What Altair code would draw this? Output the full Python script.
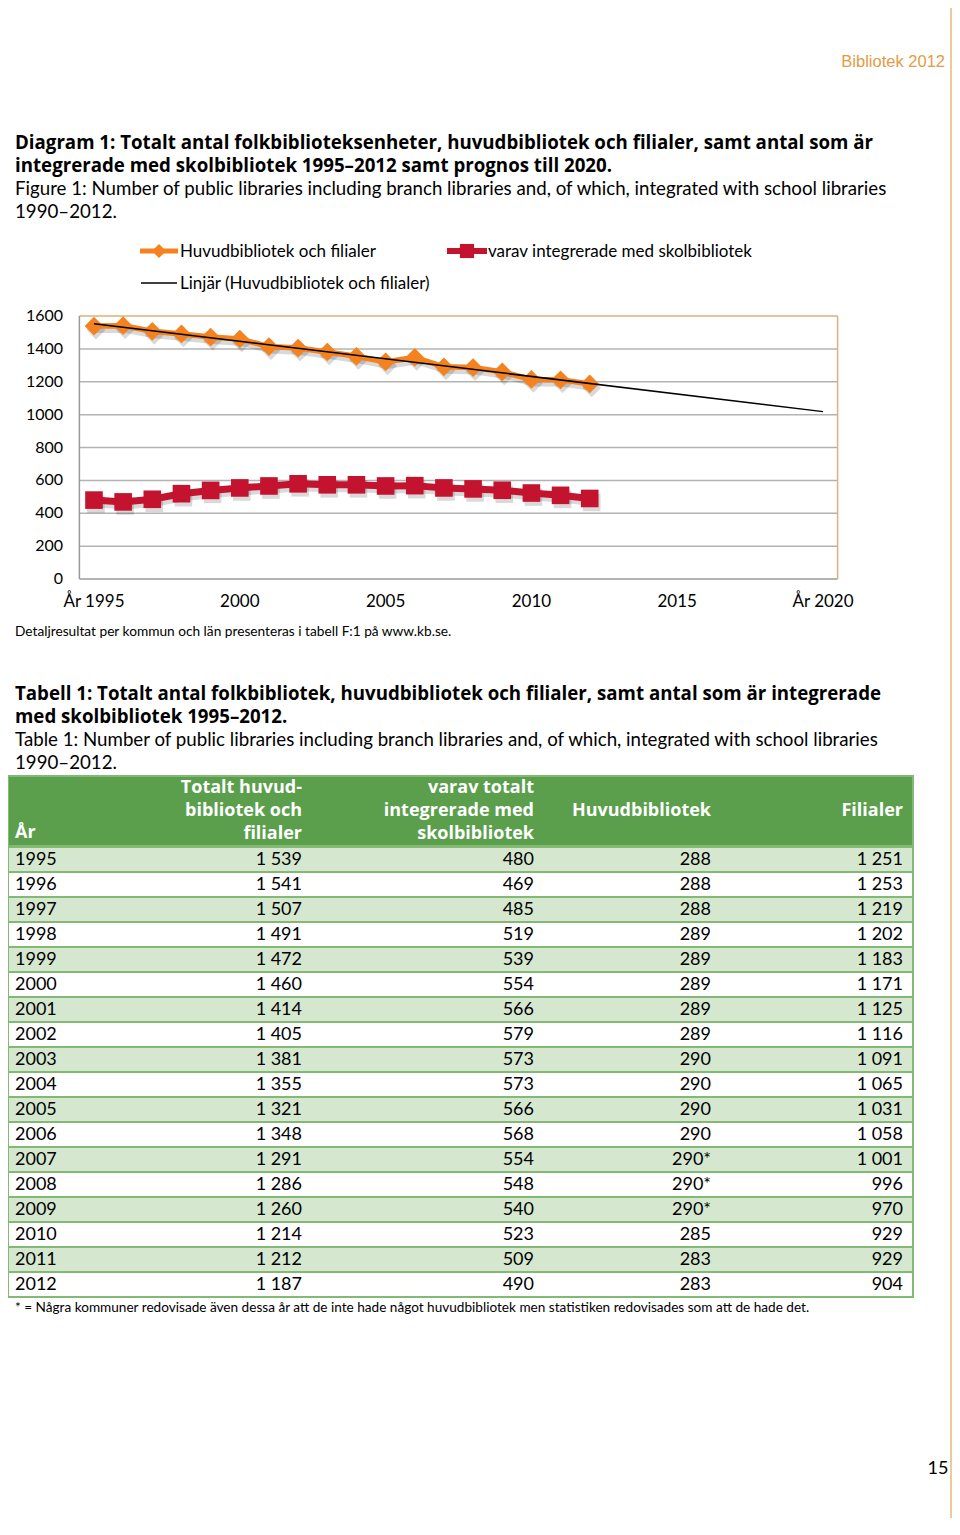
import altair as alt
import pandas as pd

# ---------------- data ----------------
years = [1995, 1996, 1997, 1998, 1999, 2000, 2001, 2002, 2003, 2004,
         2005, 2006, 2007, 2008, 2009, 2010, 2011, 2012]
total = [1539, 1541, 1507, 1491, 1472, 1460, 1414, 1405, 1381, 1355,
         1321, 1348, 1291, 1286, 1260, 1214, 1212, 1187]
integrated = [480, 469, 485, 519, 539, 554, 566, 579, 573, 573,
              566, 568, 554, 548, 540, 523, 509, 490]
huvud = ["288", "288", "288", "289", "289", "289", "289", "289", "290", "290",
         "290", "290", "290*", "290*", "290*", "285", "283", "283"]
filialer = [1251, 1253, 1219, 1202, 1183, 1171, 1125, 1116, 1091, 1065,
            1031, 1058, 1001, 996, 970, 929, 929, 904]
y_ticks = [0, 200, 400, 600, 800, 1000, 1200, 1400, 1600]
x_ticks = [1995, 2000, 2005, 2010, 2015, 2020]
grid_vals = [200, 400, 600, 800, 1000, 1200, 1400]

FONT = "Lato"
BFONT = "Open Sans"
ORANGE = "#F4821F"
RED = "#C3132E"
GREEN = "#5B9E4C"
LIGHT = "#D5E8CF"
LINEG = "#82BA74"
TAN = "#D9B27C"

W, H = 944, 1510

def fmt(v):
    return f"{v:,}".replace(",", " ")

df_total = pd.DataFrame({"year": years, "value": total})
df_int = pd.DataFrame({"year": years, "value": integrated})
df_tab = pd.DataFrame({
    "row": list(range(len(years))),
    "year": [str(y) for y in years],
    "c1": [fmt(v) for v in total],
    "c2": [fmt(v) for v in integrated],
    "c3": huvud,
    "c4": [fmt(v) for v in filialer],
})

xs = alt.Scale(domain=[1994.5, 2020.5], range=[71.4, 829.6], nice=False, zero=False)
ys = alt.Scale(domain=[0, 1600], range=[571, 308], nice=False, zero=False)
rs = alt.Scale(domain=[-0.5, 17.5], range=[839, 1289], nice=False, zero=False)


def txt(s, x, y, size=16, weight="normal", color="#000000", align="left", font=FONT):
    df = pd.DataFrame({"t": [s]})
    return alt.Chart(df).mark_text(
        align=align, baseline="middle", fontSize=size, fontWeight=weight,
        color=color, font=font
    ).encode(text="t:N", x=alt.value(x), y=alt.value(y))


layers = []

# right page border
layers.append(alt.Chart(pd.DataFrame({"a": [0]})).mark_rule(color="#EBCB9B", strokeWidth=2).encode(
    x=alt.value(943), y=alt.value(0), y2=alt.value(H)))

# header
layers.append(txt("Bibliotek 2012", 937, 54, size=16.5, color="#E39B45", align="right", font="Liberation Sans"))

# chart title
TB = dict(size=18.7, weight="bold", font=BFONT)
TR = dict(size=18.7)
layers.append(txt("Diagram 1: Totalt antal folkbiblioteksenheter, huvudbibliotek och filialer, samt antal som är", 7, 135, **TB))
layers.append(txt("integrerade med skolbibliotek 1995–2012 samt prognos till 2020.", 7, 158, **TB))
layers.append(txt("Figure 1: Number of public libraries including branch libraries and, of which, integrated with school libraries", 7, 181, **TR))
layers.append(txt("1990–2012.", 7, 204, **TR))

# legend
one = pd.DataFrame({"a": [0]})
layers.append(alt.Chart(one).mark_rule(color=ORANGE, strokeWidth=5).encode(x=alt.value(132), x2=alt.value(170), y=alt.value(243)))
layers.append(alt.Chart(one).mark_point(shape="diamond", filled=True, size=200, color=ORANGE, opacity=1).encode(x=alt.value(151), y=alt.value(243)))
layers.append(txt("Huvudbibliotek och filialer", 172, 244, size=17))
layers.append(alt.Chart(one).mark_rule(color=RED, strokeWidth=6).encode(x=alt.value(439), x2=alt.value(479), y=alt.value(243)))
layers.append(alt.Chart(one).mark_point(shape="square", filled=True, size=200, color=RED, opacity=1).encode(x=alt.value(459), y=alt.value(243)))
layers.append(txt("varav integrerade med skolbibliotek", 480, 244, size=17))
layers.append(alt.Chart(one).mark_rule(color="#000000", strokeWidth=1.3).encode(x=alt.value(133), x2=alt.value(169), y=alt.value(275)))
layers.append(txt("Linjär (Huvudbibliotek och filialer)", 172, 276, size=17))

# plot frame & grid
frame = pd.DataFrame({
    "x": [1994.5] * len(grid_vals) + [1994.5, 1994.5, 1994.5, 2020.5],
    "x2": [2020.5] * len(grid_vals) + [2020.5, 2020.5, 1994.5, 2020.5],
    "y": grid_vals + [0, 1600, 0, 0],
    "y2": grid_vals + [0, 1600, 1600, 1600],
    "c": ["#B3B3B3"] * len(grid_vals) + ["#9A9A9A", TAN, "#9A9A9A", TAN],
})
layers.append(alt.Chart(frame).mark_rule(strokeWidth=1.5).encode(
    x=alt.X("x:Q", scale=xs, axis=None), x2="x2:Q",
    y=alt.Y("y:Q", scale=ys, axis=None), y2="y2:Q",
    color=alt.Color("c:N", scale=None)))

# axis labels
layers.append(alt.Chart(pd.DataFrame({"v": y_ticks})).mark_text(
    align="right", baseline="middle", fontSize=16, font=FONT, color="#000000").encode(
    text="v:N", x=alt.value(55), y=alt.Y("v:Q", scale=ys, axis=None)))
layers.append(alt.Chart(pd.DataFrame({"v": x_ticks})).transform_calculate(
    lab="(datum.v == 1995 || datum.v == 2020) ? 'År ' + datum.v : '' + datum.v").mark_text(
    align="center", baseline="middle", fontSize=17, font=FONT, color="#000000").encode(
    text="lab:N", x=alt.X("v:Q", scale=xs, axis=None), y=alt.value(594)))

enc = dict(x=alt.X("year:Q", scale=xs, axis=None), y=alt.Y("value:Q", scale=ys, axis=None))

# orange series
layers.append(alt.Chart(df_total).mark_line(color="#000000", opacity=0.15, strokeWidth=6, xOffset=2, yOffset=4).encode(**enc))
layers.append(alt.Chart(df_total).mark_point(shape="diamond", filled=True, size=350, color="#000000", opacity=0.15, xOffset=2, yOffset=4).encode(**enc))
layers.append(alt.Chart(df_total).mark_line(color=ORANGE, strokeWidth=5.5).encode(**enc))
layers.append(alt.Chart(df_total).mark_point(shape="diamond", filled=True, size=350, color=ORANGE, opacity=1).encode(**enc))
# trend
layers.append(alt.Chart(df_total).transform_regression("year", "value", extent=[1995, 2020]).mark_line(
    color="#000000", strokeWidth=1.5).encode(**enc))

# red series
layers.append(alt.Chart(df_int).mark_line(color="#000000", opacity=0.15, strokeWidth=7, xOffset=2, yOffset=4).encode(**enc))
layers.append(alt.Chart(df_int).mark_point(shape="square", filled=True, size=310, color="#000000", opacity=0.15, xOffset=2, yOffset=4).encode(**enc))
layers.append(alt.Chart(df_int).mark_line(color=RED, strokeWidth=7).encode(**enc))
layers.append(alt.Chart(df_int).mark_point(shape="square", filled=True, size=310, color=RED, opacity=1).encode(**enc))

# caption
layers.append(txt("Detaljresultat per kommun och län presenteras i tabell F:1 på www.kb.se.", 7, 624, size=13.7))

# table title
layers.append(txt("Tabell 1: Totalt antal folkbibliotek, huvudbibliotek och filialer, samt antal som är integrerade", 7, 686, **TB))
layers.append(txt("med skolbibliotek 1995–2012.", 7, 709, **TB))
layers.append(txt("Table 1: Number of public libraries including branch libraries and, of which, integrated with school libraries", 7, 732, **TR))
layers.append(txt("1990–2012.", 7, 755, **TR))

# table header
layers.append(alt.Chart(one).mark_rect(fill=GREEN, stroke=LINEG, strokeWidth=2).encode(
    x=alt.value(0), x2=alt.value(905), y=alt.value(768), y2=alt.value(838)))
hdr = dict(size=18, weight="bold", color="#FFFFFF", font=BFONT)
layers.append(txt("År", 7, 825, **hdr))
layers.append(txt("Totalt huvud-", 294, 780, align="right", **hdr))
layers.append(txt("bibliotek och", 294, 803, align="right", **hdr))
layers.append(txt("filialer", 294, 826, align="right", **hdr))
layers.append(txt("varav totalt", 526, 780, align="right", **hdr))
layers.append(txt("integrerade med", 526, 803, align="right", **hdr))
layers.append(txt("skolbibliotek", 526, 826, align="right", **hdr))
layers.append(txt("Huvudbibliotek", 703, 803, align="right", **hdr))
layers.append(txt("Filialer", 895, 803, align="right", **hdr))

# table body
layers.append(alt.Chart(df_tab).transform_calculate(
    r0="datum.row - 0.5", r1="datum.row + 0.5",
    band="datum.row % 2 == 0 ? 'a' : 'b'").mark_rect(stroke=LINEG, strokeWidth=2).encode(
    x=alt.value(0), x2=alt.value(905),
    y=alt.Y("r0:Q", scale=rs, axis=None), y2="r1:Q",
    fill=alt.Fill("band:N", scale=alt.Scale(domain=["a", "b"], range=[LIGHT, "#FFFFFF"]), legend=None)))
for col, xp, al in [("year", 7, "left"), ("c1", 294, "right"), ("c2", 526, "right"),
                    ("c3", 703, "right"), ("c4", 895, "right")]:
    layers.append(alt.Chart(df_tab).mark_text(
        align=al, baseline="middle", fontSize=18, font=FONT, color="#000000").encode(
        text=f"{col}:N", x=alt.value(xp), y=alt.Y("row:Q", scale=rs, axis=None)))

# footnote
layers.append(txt("* = Några kommuner redovisade även dessa år att de inte hade något huvudbibliotek men statistiken redovisades som att de hade det.", 7, 1300, size=13.6))

# page number
layers.append(txt("15", 930, 1461, size=18, align="center"))

chart = alt.layer(*layers).resolve_scale(
    x="independent", y="independent", color="independent", fill="independent"
).properties(
    width=W, height=H, padding=0, autosize=alt.AutoSizeParams(type="none"),
    background="#FFFFFF"
).configure_view(stroke=None)

chart.save("out.html", embed_options={"renderer": "svg", "actions": False})
